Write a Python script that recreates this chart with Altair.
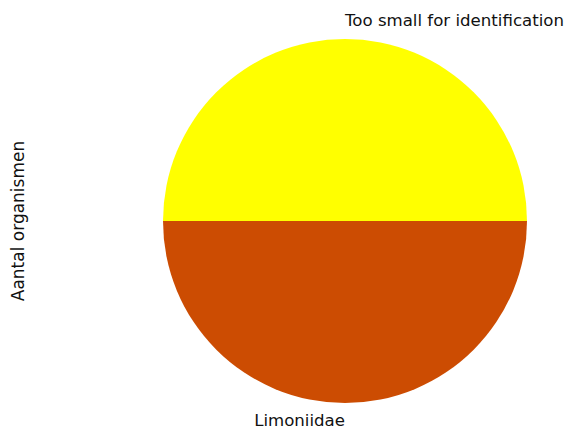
import altair as alt
import pandas as pd

categories = ["Too small for identification", "Limoniidae"]
counts = [1, 1]
colors = ["#FFFF00", "#CC4C02"]
aligns = ["left", "right"]

df = pd.DataFrame({"cat": categories, "n": counts, "order": [0, 1], "align": aligns})

PI = 3.141592653589793
theta = alt.Theta("n:Q", stack=True, scale=alt.Scale(range=[-PI / 2, 3 * PI / 2]))
color = alt.Color("cat:N", scale=alt.Scale(domain=categories, range=colors), legend=None)
order = alt.Order("order:Q")

base = alt.Chart(df)
pie = base.mark_arc(outerRadius=182).encode(theta=theta, color=color, order=order)

text_style = dict(radius=200, baseline="middle", font="DejaVu Sans", fontSize=16.6, color="#111111")

left_labels = base.mark_text(align="left", **text_style).encode(
    theta=theta, order=order, text=alt.condition(alt.datum.align == "left", "cat:N", alt.value(""))
)
right_labels = base.mark_text(align="right", **text_style).encode(
    theta=theta, order=order, text=alt.condition(alt.datum.align == "right", "cat:N", alt.value(""))
)

chart = alt.layer(pie, left_labels, right_labels).properties(
    width=420,
    height=420,
    title=alt.TitleParams("Aantal organismen", orient="left", anchor="middle", font="DejaVu Sans",
                          fontSize=17, fontWeight="normal", color="#111111", offset=107),
    autosize=alt.AutoSizeParams(type="none"),
    padding={"left": 127, "top": 3, "right": 11, "bottom": 5},
).configure_view(stroke=None)

chart.save("out.html", embed_options={"renderer": "svg", "actions": False})
